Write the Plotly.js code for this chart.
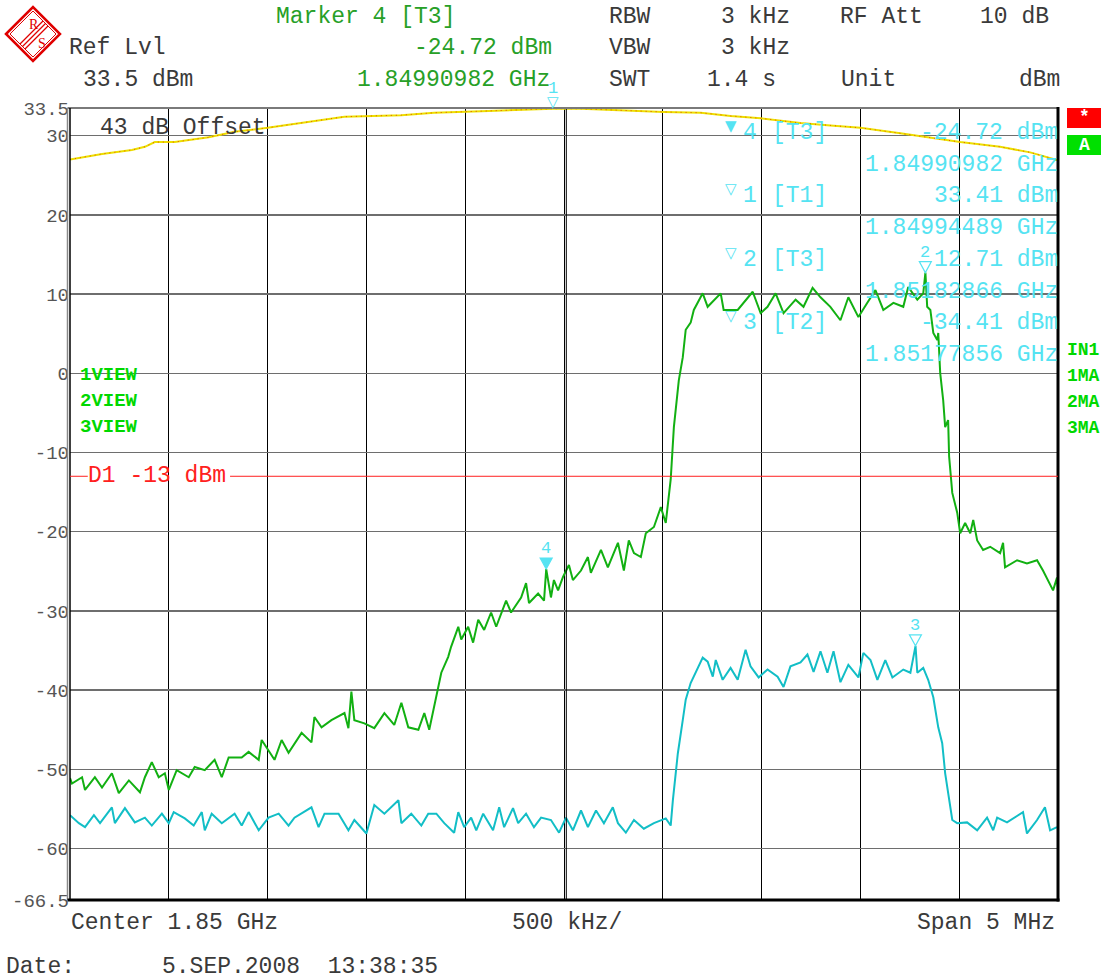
<!DOCTYPE html>
<html><head><meta charset="utf-8">
<script src="https://cdn.plot.ly/plotly-3.0.1.min.js"></script>
<style>html,body{margin:0;padding:0;background:#fff;}#chart{width:1105px;height:979px;}</style>
</head><body><div id="chart"></div>
<script>
// ---------------- DATA (frequency offset from 1.85 GHz in MHz, level in dBm) ----------------
const t3Freq = [-2.500,-2.490,-2.439,-2.424,-2.374,-2.338,-2.288,-2.253,-2.202,-2.146,-2.121,-2.086,-2.051,-2.020,-2.000,-1.960,-1.899,-1.869,-1.818,-1.768,-1.732,-1.697,-1.631,-1.596,-1.545,-1.530,-1.465,-1.429,-1.394,-1.328,-1.278,-1.263,-1.227,-1.177,-1.111,-1.091,-1.076,-1.061,-1.010,-0.960,-0.909,-0.859,-0.823,-0.788,-0.737,-0.707,-0.682,-0.657,-0.621,-0.586,-0.571,-0.545,-0.535,-0.520,-0.485,-0.460,-0.434,-0.404,-0.369,-0.343,-0.293,-0.268,-0.217,-0.192,-0.177,-0.131,-0.101,-0.090,-0.066,-0.051,-0.030,-0.005,0.025,0.045,0.086,0.121,0.136,0.187,0.222,0.273,0.303,0.328,0.354,0.389,0.414,0.455,0.490,0.515,0.540,0.556,0.581,0.601,0.616,0.641,0.657,0.702,0.727,0.793,0.808,0.879,0.955,0.995,1.030,1.071,1.111,1.172,1.212,1.258,1.298,1.348,1.399,1.439,1.490,1.535,1.576,1.616,1.667,1.717,1.742,1.788,1.818,1.829,1.838,1.854,1.869,1.889,1.894,1.904,1.919,1.929,1.944,1.949,1.965,1.990,2.005,2.030,2.056,2.071,2.091,2.121,2.157,2.207,2.222,2.232,2.293,2.343,2.394,2.424,2.475,2.495,2.500];
const t3Level = [-51.1,-51.8,-51.0,-52.6,-51.0,-52.3,-50.5,-53.0,-51.4,-52.9,-51.0,-49.1,-51.0,-50.5,-52.6,-50.1,-51.0,-49.7,-50.1,-48.8,-51.0,-48.5,-48.5,-47.8,-48.8,-46.3,-48.8,-46.3,-47.9,-45.4,-46.6,-43.4,-44.7,-43.8,-42.9,-44.8,-40.2,-43.8,-44.2,-44.8,-42.9,-44.4,-41.6,-44.7,-45.0,-42.9,-45.0,-42.1,-37.8,-35.8,-34.5,-32.7,-32.0,-33.6,-32.0,-34.0,-31.1,-32.4,-30.2,-32.0,-28.7,-30.2,-28.3,-26.5,-29.0,-27.8,-28.7,-24.72,-28.3,-26.1,-27.4,-25.7,-24.2,-26.1,-24.9,-23.2,-25.2,-22.3,-24.5,-21.4,-24.9,-21.1,-22.7,-23.2,-20.2,-19.4,-16.9,-18.9,-13.4,-6.8,-0.9,2.0,5.5,6.4,8.0,10.1,8.4,10.1,8.0,8.0,10.3,7.6,8.4,10.1,7.6,9.3,8.4,10.8,9.6,8.4,6.7,9.6,7.1,8.9,10.5,8.0,8.9,8.4,10.9,9.3,10.1,12.71,8.4,8.0,5.1,4.2,5.1,0.0,-3.4,-6.8,-5.9,-10.5,-15.1,-17.6,-20.2,-18.9,-20.2,-18.5,-21.1,-22.3,-21.9,-22.7,-21.4,-24.5,-23.6,-24.0,-23.6,-24.9,-27.4,-25.8,-27.6];

const t2Freq = [-2.500,-2.455,-2.424,-2.379,-2.348,-2.288,-2.273,-2.222,-2.172,-2.121,-2.086,-2.035,-2.000,-1.975,-1.919,-1.874,-1.833,-1.818,-1.783,-1.732,-1.667,-1.631,-1.596,-1.545,-1.495,-1.444,-1.394,-1.364,-1.278,-1.242,-1.212,-1.141,-1.091,-1.061,-1.000,-0.960,-0.909,-0.838,-0.823,-0.773,-0.722,-0.687,-0.646,-0.606,-0.556,-0.535,-0.505,-0.470,-0.444,-0.409,-0.359,-0.328,-0.303,-0.258,-0.232,-0.192,-0.152,-0.116,-0.066,-0.025,0.010,0.045,0.086,0.121,0.162,0.202,0.247,0.273,0.313,0.354,0.404,0.455,0.515,0.540,0.551,0.576,0.601,0.616,0.641,0.667,0.702,0.727,0.753,0.768,0.803,0.843,0.879,0.919,0.944,0.985,1.030,1.081,1.111,1.146,1.197,1.232,1.263,1.298,1.333,1.364,1.399,1.439,1.490,1.515,1.551,1.586,1.626,1.662,1.717,1.753,1.779,1.788,1.818,1.843,1.869,1.894,1.914,1.929,1.944,1.965,1.990,2.040,2.091,2.141,2.172,2.192,2.242,2.323,2.343,2.394,2.434,2.460,2.495];
const t2Level = [-55.8,-56.8,-57.3,-55.8,-56.8,-54.8,-56.8,-54.9,-56.7,-56.1,-57.1,-55.6,-56.8,-55.4,-56.2,-57.1,-55.4,-57.7,-55.6,-56.8,-55.6,-57.1,-55.4,-57.7,-56.1,-55.6,-57.1,-56.1,-54.8,-57.3,-55.6,-55.6,-57.7,-56.4,-58.1,-54.5,-55.6,-53.9,-56.8,-55.6,-57.1,-55.6,-55.6,-56.8,-58.0,-55.4,-57.3,-56.1,-57.7,-55.6,-57.7,-54.8,-57.3,-54.9,-56.8,-55.6,-57.3,-56.1,-56.4,-58.0,-56.1,-57.7,-55.2,-57.3,-55.2,-56.8,-54.8,-56.8,-58.0,-56.4,-57.5,-56.8,-56.2,-57.1,-53.9,-48.0,-43.8,-41.2,-39.1,-37.7,-35.9,-36.4,-38.3,-36.2,-38.7,-37.2,-38.7,-34.9,-37.0,-38.4,-37.4,-38.3,-39.6,-37.0,-36.5,-35.5,-37.7,-35.1,-37.8,-35.1,-39.0,-36.8,-38.4,-35.3,-36.2,-38.7,-36.2,-38.4,-37.4,-37.8,-34.41,-37.8,-37.2,-38.7,-40.9,-44.7,-46.7,-50.5,-53.0,-56.4,-56.8,-56.7,-57.7,-56.1,-57.7,-56.1,-56.7,-55.4,-58.1,-56.4,-54.8,-57.7,-57.3];

const t1Freq = [-2.500,-2.338,-2.187,-2.121,-2.071,-1.970,-1.798,-1.667,-1.500,-1.328,-1.111,-0.823,-0.657,-0.419,-0.253,-0.055,0.086,0.288,0.505,0.692,0.843,0.995,1.197,1.348,1.500,1.702,1.869,2.005,2.207,2.359,2.500];
const t1Level = [27.0,27.7,28.2,28.6,29.2,29.2,29.8,30.5,31.0,31.6,32.4,32.6,32.9,33.1,33.2,33.41,33.4,33.2,33.0,32.9,32.5,32.2,31.6,31.3,31.0,30.3,29.7,29.2,28.6,27.9,26.9];

const markerIds = ['1','2','3','4'];
const markerTrace = ['[T1]','[T3]','[T2]','[T3]'];
const markerFreq = [-0.05511, 1.82866, 1.77856, -0.09018];
const markerLevel = [33.41, 12.71, -34.41, -24.72];
const markerOrder = [3, 0, 1, 2]; // list order in the info block: 4, 1, 2, 3

const yTickVals = [33.5,30,20,10,0,-10,-20,-30,-40,-50,-60,-66.5];
const yTickText = ['33.5','30','20','10','0','-10','-20','-30','-40','-50','-60','-66.5'];
const displayLine = -13;

// ---------------- LAYOUT HELPERS ----------------
const MONO = '"Liberation Mono","DejaVu Sans Mono",monospace';
const L=70, R=1058, T=108, B=900;
const px = x => (x-L)/(R-L);
const py = y => (B-y)/(B-T);
function note(text, x, y, o) {
  o = o || {};
  return {text:text, xref:'paper', yref:'paper', x:px(x), y:py(y),
    xanchor:o.anchor||'left', yanchor:'middle', showarrow:false, borderpad:0,
    font:{family:o.family||MONO, size:o.size||23, color:o.color||'#3a3a3a', weight:o.weight||'normal'}};
}
function pathPx(pts, close) {
  return pts.map((p,i)=>(i?'L':'M')+px(p[0]).toFixed(5)+','+py(p[1]).toFixed(5)).join(' ')+(close?' Z':'');
}
function line(x0,y0,x1,y1,color,width){
  return {type:'line', xref:'paper', yref:'paper', x0:px(x0), y0:py(y0), x1:px(x1), y1:py(y1), line:{color:color,width:width}};
}

const CY = '#55e3f2', GRN = '#27a027', BRG = '#00d800', DARK='#3a3a3a', LOGO='#e00000';

const traces = [
  {x:t2Freq, y:t2Level, mode:'lines', line:{color:'#12bec6', width:2}, hoverinfo:'skip'},
  {x:t3Freq, y:t3Level, mode:'lines', line:{color:'#12b012', width:2}, hoverinfo:'skip'},
  {x:t1Freq, y:t1Level, mode:'lines', line:{color:'#ece000', width:2}, hoverinfo:'skip'},
  {x:t1Freq, y:t1Level, mode:'lines', line:{color:'#e85000', width:1, dash:'1px,4px'}, hoverinfo:'skip'}
];

const ann = [
  note('Marker 4 [T3]', 275, 17, {color:GRN}),
  note('Ref Lvl', 68, 48, {color:DARK}),
  note(markerLevel[3].toFixed(2)+' dBm', 553, 48, {color:GRN, anchor:'right'}),
  note('33.5 dBm', 82, 80, {color:DARK}),
  note(((1850+markerFreq[3])/1000).toFixed(8)+' GHz', 551, 80, {color:GRN, anchor:'right'}),
  note('RBW', 608, 17), note('3 kHz', 720, 17), note('RF Att', 839, 17), note('10 dB', 979, 17),
  note('VBW', 608, 48), note('3 kHz', 720, 48),
  note('SWT', 608, 80), note('1.4 s', 706, 80), note('Unit', 840, 80), note('dBm', 1061, 80, {anchor:'right'}),
  note('43 dB Offset', 99, 128),
  note('1VIEW', 79, 375, {color:BRG, size:19, weight:'bold'}),
  note('2VIEW', 79, 401, {color:BRG, size:19, weight:'bold'}),
  note('3VIEW', 79, 427, {color:BRG, size:19, weight:'bold'}),
  note('IN1', 1066, 350, {color:BRG, size:18, weight:'bold'}),
  note('1MA', 1066, 376, {color:BRG, size:18, weight:'bold'}),
  note('2MA', 1066, 402, {color:BRG, size:18, weight:'bold'}),
  note('3MA', 1066, 428, {color:BRG, size:18, weight:'bold'}),
  note('*', 1084, 117, {color:'#fff', size:18, weight:'bold', anchor:'center'}),
  note('A', 1084, 145, {color:'#fff', size:18, weight:'bold', anchor:'center'}),
  note('D1 '+displayLine+' dBm', 87, 476, {color:'#ff2020'}),
  note('Center 1.85 GHz', 70, 923, {color:DARK}),
  note('500 kHz/', 511, 923, {color:DARK}),
  note('Span 5 MHz', 1056, 923, {color:DARK, anchor:'right'}),
  note('Date:', 5, 967, {color:DARK}),
  note('5.SEP.2008  13:38:35', 161, 967, {color:DARK}),
  note('R', 28, 25, {color:LOGO, size:14, family:'"Liberation Serif",serif'}),
  note('S', 37, 43, {color:LOGO, size:14, family:'"Liberation Serif",serif'})
];

// marker info block
markerOrder.forEach((m,k)=>{
  const y1 = 133 + k*63.3, y2 = y1 + 32;
  ann.push(note(m===3?'▼':'▽', 731, y1-7, {color:CY, size:15, family:'"DejaVu Sans",sans-serif', anchor:'center'}));
  ann.push(note(markerIds[m], 742, y1, {color:CY}));
  ann.push(note(markerTrace[m], 771, y1, {color:CY}));
  ann.push(note(markerLevel[m].toFixed(2)+' dBm', 1059, y1, {color:CY, anchor:'right'}));
  ann.push(note(((1850+markerFreq[m])/1000).toFixed(8)+' GHz', 1059, y2, {color:CY, anchor:'right'}));
});

const shapes = [
  // extra centre line
  line(566.3, T, 566.3, B, '#000', 1),
  // borders
  line(L-2.5, T, R, T, '#7a7a7a', 2),
  line(L-2.5, T, L-2.5, B, '#8a8a8a', 1.5),
  line(L, T, L, B, '#000', 1.5),
  line(R, T-1, R, B+1.5, '#000', 3),
  line(L-2.5, B, R+1.5, B, '#000', 3),
  // display line D1 (interrupted by its label)
  {type:'line', xref:'x', yref:'y', x0:-2.5, x1:-2.41, y0:displayLine, y1:displayLine, line:{color:'#ff2020', width:1}},
  {type:'line', xref:'x', yref:'y', x0:-1.69, x1:2.5, y0:displayLine, y1:displayLine, line:{color:'#ff2020', width:1}},
  // status boxes
  {type:'rect', xref:'paper', yref:'paper', x0:px(1067), x1:px(1101), y0:py(128), y1:py(108), fillcolor:'#ff0000', line:{width:0}},
  {type:'rect', xref:'paper', yref:'paper', x0:px(1067), x1:px(1101), y0:py(155), y1:py(135), fillcolor:'#00e000', line:{width:0}},
  // R&S logo: double-outlined diamond with three stripes
  {type:'path', xref:'paper', yref:'paper', path:pathPx([[6,34],[33,7],[60,34],[33,61]],true), line:{color:LOGO, width:2.5}, fillcolor:'#fff'},
  {type:'path', xref:'paper', yref:'paper', path:pathPx([[10,34],[33,11],[56,34],[33,57]],true), line:{color:LOGO, width:1}, fillcolor:'rgba(0,0,0,0)'},
  {type:'path', xref:'paper', yref:'paper', path:pathPx([[20,44],[43,21]]), line:{color:LOGO, width:1.3}},
  {type:'path', xref:'paper', yref:'paper', path:pathPx([[22.5,46.5],[45.5,23.5]]), line:{color:LOGO, width:1.3}},
  {type:'path', xref:'paper', yref:'paper', path:pathPx([[25,49],[48,26]]), line:{color:LOGO, width:1.3}}
];

// markers placed on the traces
markerIds.forEach((id,m)=>{
  if (markerLevel[m] > 32) {
    // triangle would be clipped at the top border: draw it as a glyph annotation instead
    ann.push({text:'▽', xref:'x', yref:'y', x:markerFreq[m], y:markerLevel[m], yanchor:'bottom', xanchor:'center',
      yshift:-3, showarrow:false, borderpad:0, font:{family:'"DejaVu Sans",sans-serif', size:15, color:CY}});
  } else {
    shapes.push({type:'path', xref:'x', yref:'y', xsizemode:'pixel', ysizemode:'pixel',
      xanchor:markerFreq[m], yanchor:markerLevel[m],
      path:'M -6,11 L 6,11 L 0,0 Z', line:{color:CY, width:1.2},
      fillcolor: m===3 ? CY : 'rgba(0,0,0,0)'});
  }
  ann.push({text:id, xref:'x', yref:'y', x:markerFreq[m], y:markerLevel[m], yanchor:'bottom', xanchor:'center',
    yshift:10, showarrow:false, borderpad:0, font:{family:MONO, size:17, color:CY}});
});

const layout = {
  width:1105, height:979, margin:{l:L, r:1105-R, t:T, b:979-B, pad:0},
  paper_bgcolor:'#fff', plot_bgcolor:'#fff', showlegend:false,
  xaxis:{range:[-2.5,2.5], tick0:-2.5, dtick:0.5, showgrid:true, gridcolor:'#000', gridwidth:1,
    showticklabels:false, ticks:'', zeroline:false, showline:false, fixedrange:true},
  yaxis:{range:[-66.5,33.5], tickmode:'array', tickvals:yTickVals, ticktext:yTickText,
    showgrid:true, gridcolor:'#6e6e6e', gridwidth:1.5, zeroline:false, showline:false, ticks:'',
    tickfont:{family:MONO, size:19, color:'#555'}, fixedrange:true},
  annotations:ann, shapes:shapes
};
Plotly.newPlot('chart', traces, layout, {staticPlot:true, displayModeBar:false});
</script></body></html>
